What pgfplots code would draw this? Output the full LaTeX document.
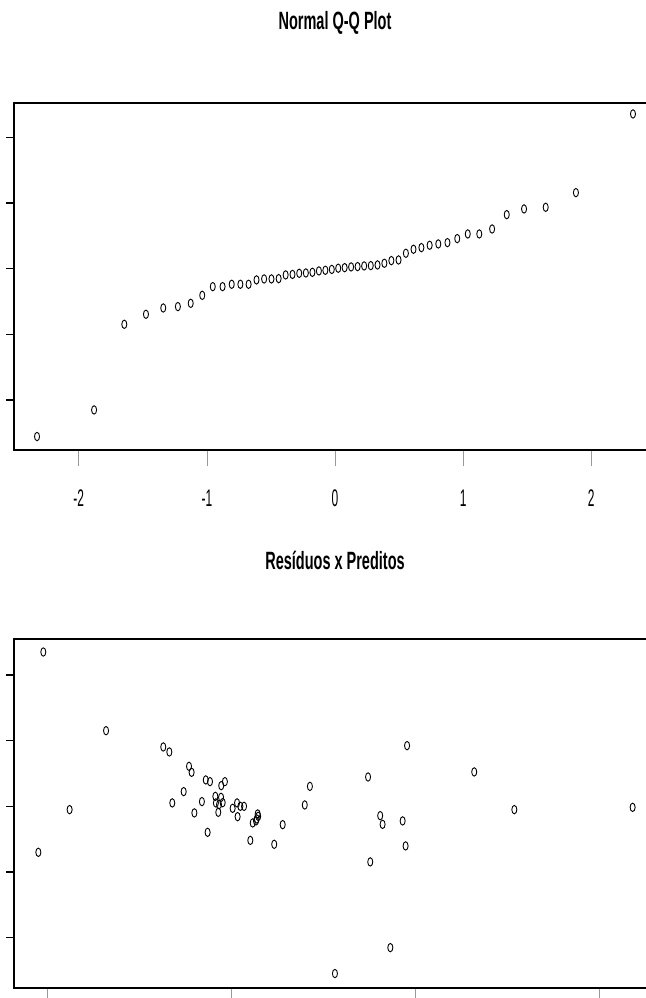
\documentclass[border=0pt]{standalone}
\usepackage{fontspec}
\setmainfont{Liberation Sans}[FakeStretch=0.58]
\newfontfamily\ticksfont{Liberation Sans}[FakeStretch=0.5]
\usepackage{pgfplots}
\pgfplotsset{compat=1.18}

\pgfplotsset{
  rstyle/.style={
    scale only axis, width=642pt,
    axis line style={line width=1.1pt, black},
    tick align=outside,
    xtick pos=bottom, ytick pos=left,
    xtick style={draw=gray!80, line width=0.8pt, /pgfplots/major tick length=16pt},
    ytick style={draw=black, line width=1.2pt, /pgfplots/major tick length=8pt},
    yticklabels={},
    title style={font=\bfseries\fontsize{25}{29}\selectfont, anchor=base, at={(0.5,1)}},
    tick label style={font=\ticksfont\fontsize{24}{28}\selectfont},
    xticklabel style={yshift=-32pt},
  },
  pts/.style={only marks, mark=o, mark size=4.2pt, black,
    mark options={xscale=0.6, line width=0.9pt}},
}

\begin{document}
\begin{tikzpicture}
\useasboundingbox (0,0) rectangle (645pt,998pt);

% Normal Q-Q plot
\begin{axis}[rstyle, at={(14pt,548pt)}, anchor=south west, height=347pt,
  xmin=-2.506, xmax=2.506, ymin=-2.761, ymax=2.522,
  xtick={-2,-1,0,1,2}, xticklabels={-2,-1,0,1,2},
  ytick={-2,-1,0,1,2},
  title={Normal Q-Q Plot}, title style={yshift=67pt}]
\addplot[pts] coordinates {
(-2.3263,-2.556) (-1.8808,-2.151) (-1.6449,-0.847) (-1.4758,-0.695) (-1.3408,-0.599)
(-1.2265,-0.578) (-1.1264,-0.528) (-1.0364,-0.406) (-0.9542,-0.274) (-0.8779,-0.274)
(-0.8064,-0.238) (-0.7388,-0.238) (-0.6745,-0.238) (-0.6128,-0.172) (-0.5534,-0.157)
(-0.4959,-0.157) (-0.4399,-0.152) (-0.3853,-0.096) (-0.3319,-0.088) (-0.2793,-0.071)
(-0.2275,-0.066) (-0.1764,-0.056) (-0.1257,-0.035) (-0.0753,-0.025) (-0.0251,-0.012)
(0.0251,0.006) (0.0753,0.015) (0.1257,0.026) (0.1764,0.031) (0.2275,0.041)
(0.2793,0.046) (0.3319,0.056) (0.3853,0.082) (0.4399,0.122) (0.4959,0.132)
(0.5534,0.234) (0.6128,0.295) (0.6745,0.320) (0.7388,0.356) (0.8064,0.376)
(0.8779,0.396) (0.9542,0.457) (1.0364,0.528) (1.1264,0.528) (1.2265,0.604)
(1.3408,0.822) (1.4758,0.909) (1.6449,0.934) (1.8808,1.157) (2.3263,2.355)
};
\end{axis}

% Residuals vs fitted
\begin{axis}[rstyle, at={(14pt,10pt)}, anchor=south west, height=349pt,
  xmin=0.8207, xmax=4.310, ymin=-2.766, ymax=2.548,
  xtick={1,2,3,4}, xticklabels={},
  ytick={-2,-1,0,1,2},
  title={Resíduos x Preditos}, title style={yshift=63pt}]
\addplot[pts] coordinates {
(0.980,2.350) (1.321,1.152) (0.953,-0.700) (1.123,-0.050) (1.632,0.904)
(1.665,0.828) (1.772,0.609) (1.786,0.518) (1.863,0.402) (1.886,0.376)
(1.743,0.224) (1.681,0.052) (1.801,-0.100) (1.842,0.072) (1.873,-0.396)
(1.947,0.315) (1.967,0.376) (1.915,0.152) (1.918,0.052) (1.931,-0.091)
(1.935,0.026) (1.946,0.137) (1.955,0.056) (2.009,-0.030) (2.033,0.052)
(2.036,-0.157) (2.051,0.000) (2.071,0.000) (2.105,-0.518) (2.118,-0.253)
(2.140,-0.192) (2.145,-0.116) (2.148,-0.152) (2.136,-0.222) (2.235,-0.578)
(2.281,-0.279) (2.401,0.021) (2.429,0.304) (2.957,0.924) (2.745,0.447)
(3.322,0.524) (2.811,-0.142) (2.824,-0.274) (2.933,-0.222) (3.540,-0.050)
(4.183,-0.015) (2.949,-0.603) (2.757,-0.846) (2.866,-2.151) (2.565,-2.546)
};
\end{axis}
\end{tikzpicture}
\end{document}
